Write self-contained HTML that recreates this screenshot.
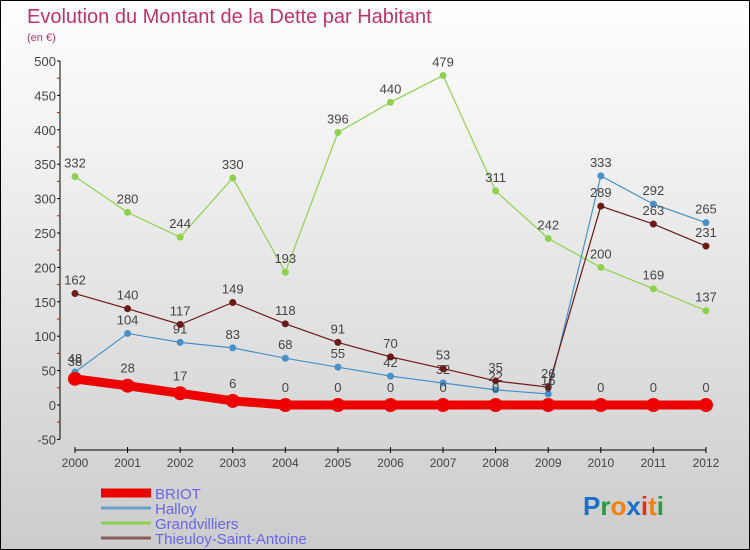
<!DOCTYPE html>
<html><head><meta charset="utf-8"><style>
body{margin:0}
#c{position:relative;width:748px;height:548px;border:1px solid #000;background:linear-gradient(#fff,#ccc);font-family:"Liberation Sans",sans-serif;overflow:hidden}
</style></head><body>
<div id="c">
<svg id="s" width="748" height="548" style="position:absolute;left:0;top:0">
<text x="26" y="22" font-size="20" fill="#c0336a">Evolution du Montant de la Dette par Habitant</text>
<text x="26" y="40" font-size="11" fill="#c0336a">(en €)</text>
</svg>
</div>
<script>
const years=["2000","2001","2002","2003","2004","2005","2006","2007","2008","2009","2010","2011","2012"];
const briot=[38,28,17,6,0,0,0,0,0,0,0,0,0];
const halloy=[48,104,91,83,68,55,42,32,22,16,333,292,265];
const grand=[332,280,244,330,193,396,440,479,311,242,200,169,137];
const thieu=[162,140,117,149,118,91,70,53,35,26,289,263,231];
const yTicks=[-50,0,50,100,150,200,250,300,350,400,450,500];
const names=["BRIOT","Halloy","Grandvilliers","Thieuloy-Saint-Antoine"];
const s=document.getElementById('s');const NS="http://www.w3.org/2000/svg";
function X(i){return 74+i*52.58;}
function Y(v){return 404-v*0.688;}
function el(t,a,n){const e=document.createElementNS(NS,t);for(const k in a)e.setAttribute(k,a[k]);


s.appendChild(e);return e;}
el('line',{x1:59,y1:Y(500),x2:59,y2:Y(-50),stroke:'#000'},'y-axis');
yTicks.forEach(v=>{el('line',{x1:56,x2:59,y1:Y(v),y2:Y(v),stroke:'#000'},'y-tick');
if(v<500)el('line',{x1:56,x2:59,y1:Y(v+25),y2:Y(v+25),stroke:'#e00'},'y-minor-tick');
const t=el('text',{x:55,y:Y(v)+5,'text-anchor':'end','font-size':13,fill:'#444'},'y-tick-label');t.textContent=v;});
el('line',{x1:X(0),x2:X(12),y1:449,y2:449,stroke:'#000'},'x-axis');
years.forEach((y,i)=>{el('line',{x1:X(i),x2:X(i),y1:446,y2:452,stroke:'#000'},'x-tick');
const t=el('text',{x:X(i),y:466,'text-anchor':'middle','font-size':12,fill:'#444'},'x-tick-label');t.textContent=y;});
function series(d,col,w,r,n){
el('polyline',{points:d.map((v,i)=>X(i)+','+Y(v)).join(' '),fill:'none',stroke:col,'stroke-width':w},n+'-line');
d.forEach((v,i)=>{el('circle',{cx:X(i),cy:Y(v),r:r,fill:col},n+'-point');
const t=el('text',{x:X(i),y:Y(v)-9-(r>5?4:0),'text-anchor':'middle','font-size':13,fill:'#444'},n+'-value-label');t.textContent=v;});}
series(grand,'#8fd14f',1.2,3.5,'grandvilliers');
series(halloy,'#4a90c8',1.2,3.5,'halloy');
series(thieu,'#6b1a1a',1.2,3.5,'thieuloy');
series(briot,'#e00',9,7,'briot');
const lc=['#e00','#6aa0d0','#8fd14f','#8a5a5a'],lw=[9,3,3,3];
names.forEach((n,i)=>{const y=492+i*15;
el('line',{x1:100,x2:150,y1:y,y2:y,stroke:lc[i],'stroke-width':lw[i]},'legend-swatch');
const t=el('text',{x:154,y:y+6,'font-size':15,fill:'#6666ee'},'legend-entry');t.textContent=n;});
const lg=el('text',{x:582,y:514,'font-size':26,'font-weight':'bold'},'proxiti-logo');
[['P','#1a6fc8'],['r','#2a9a3a'],['o','#f08010'],['x','#1a6fc8'],['i','#e03020'],['t','#f08010'],['i','#2a9a3a']].forEach(p=>{const ts=document.createElementNS(NS,'tspan');ts.setAttribute('fill',p[1]);ts.textContent=p[0];lg.appendChild(ts);});
</script>
</body></html>
